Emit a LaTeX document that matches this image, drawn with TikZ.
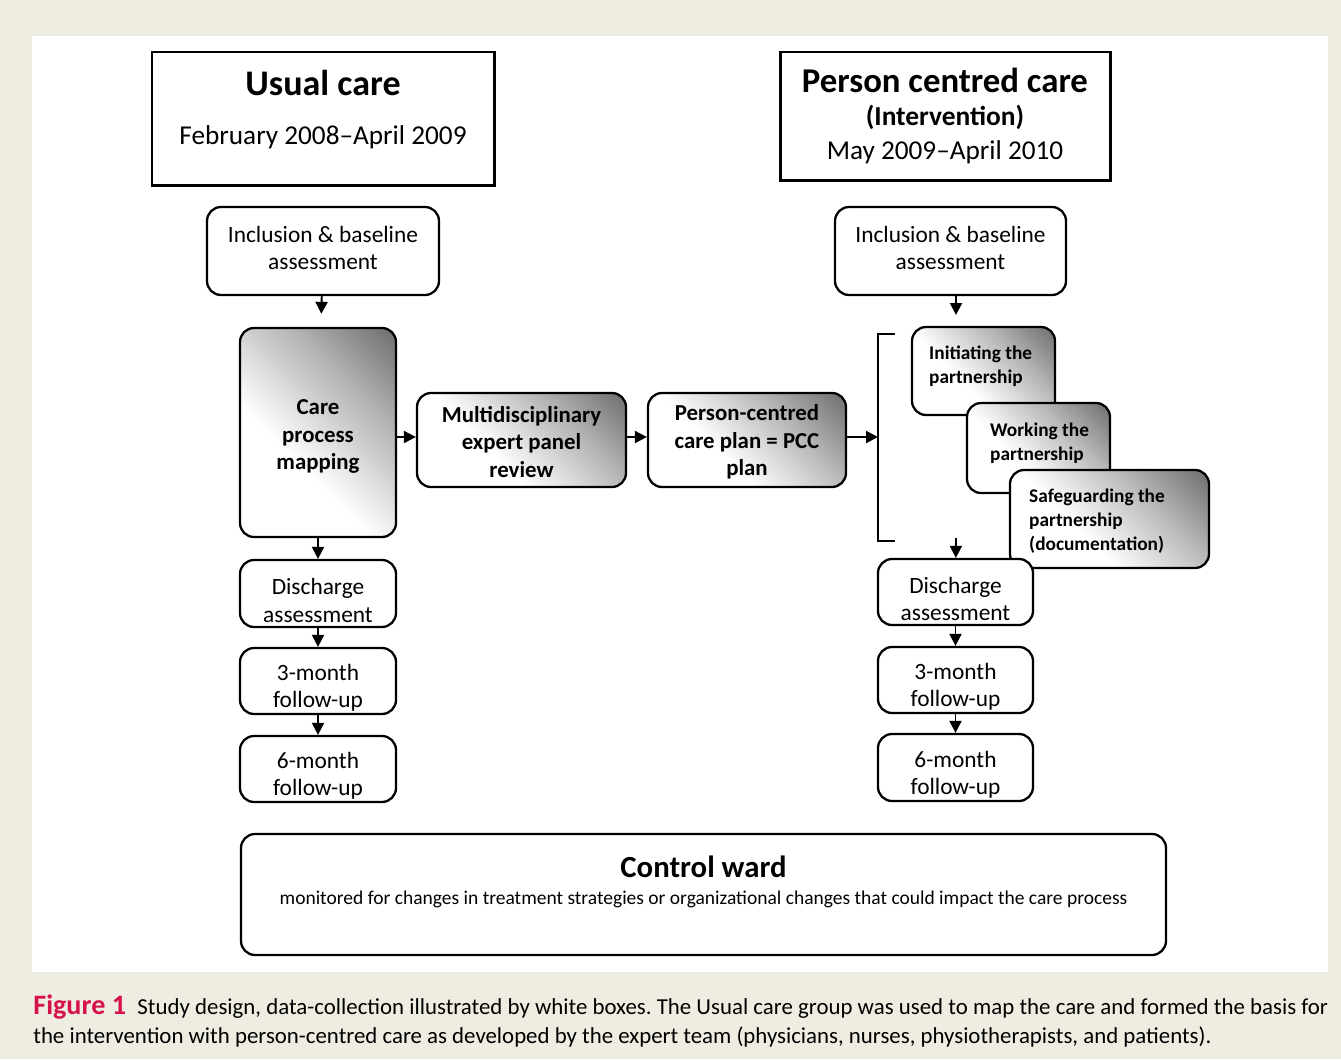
\documentclass[tikz,border=0pt]{standalone}
\usepackage{fontspec}
\setmainfont{Carlito}
\usetikzlibrary{arrows.meta, positioning}

\definecolor{pagebg}{RGB}{239,237,226}
\definecolor{figred}{RGB}{214,18,78}
\pgfdeclareverticalshading{cornershade}{100bp}{color(0bp)=(white); color(40bp)=(white); color(64bp)=(black!28); color(96bp)=(black!72); color(100bp)=(black!72)}

\tikzset{
  box/.style={draw, fill=white, rounded corners=8pt, line width=1.3pt, inner sep=0pt},
  titlebox/.style={draw, fill=white, line width=1.7pt, inner sep=0pt},
  shadebox/.style={draw, rounded corners=8pt, line width=1.3pt, inner sep=0pt,
    shade, shading=cornershade, shading angle=-45},
  sz/.style 2 args={minimum width=#1*0.02cm, minimum height=#2*0.02cm},
  txt/.style={align=center, inner sep=0pt, font=\fontsize{13.3}{15.5}\selectfont},
  boldtxt/.style={align=center, inner sep=0pt, font=\fontsize{13}{15.5}\selectfont\bfseries},
  smalltxt/.style={align=left, inner sep=0pt, font=\fontsize{11}{13.5}\selectfont\bfseries},
  arr/.style={line width=1.1pt, -{Triangle[length=2.4mm,width=2.4mm]}},
}

\begin{document}
\begin{tikzpicture}[x=0.02cm, y=-0.02cm]

% page and white panel
\fill[pagebg] (0,0) rectangle (1341,1059);
\fill[white] (32,36) rectangle (1328,972);
\useasboundingbox (0,0) rectangle (1341,1059);

% period boxes
\node[titlebox, sz={342}{133}, label={[txt, yshift=0.18cm]center:{{\fontsize{20.5}{24}\bfseries Usual care}\\[12pt]{\fontsize{15.5}{18}\selectfont February 2008--April 2009}}}] (usual) at (323,118.5) {};
\node[titlebox, sz={330}{128}, label={[txt, yshift=0.0cm]center:{{\fontsize{19.8}{22}\bfseries Person centred care}\\[3pt]{\fontsize{15.6}{19}\bfseries (Intervention)}\\[4pt]{\fontsize{15.5}{19}\selectfont May 2009--April 2010}}}] (pcctitle) at (945,116) {};

% inclusion
\node[box, sz={232}{88}, label={[txt, yshift=0.06cm]center:{Inclusion \& baseline\\assessment}}] (incl1) at (323,251) {};
\node[box, sz={231}{88}, label={[txt, yshift=0.06cm]center:{Inclusion \& baseline\\assessment}}] (incl2) at (950.5,251) {};

% usual care mapping chain
\node[shadebox, sz={156}{209}, label={[boldtxt, yshift=-0.08cm]center:{Care\\process\\mapping}}] (care) at (318,432.5) {};
\node[shadebox, sz={209}{94}, label={[boldtxt, yshift=-0.04cm]center:{Multidisciplinary\\expert panel\\review}}] (multi) at (521.5,440) {};
\node[shadebox, sz={198}{94}, label={[boldtxt, yshift=-0.04cm]center:{Person-centred\\care plan = PCC\\plan}}] (pccplan) at (747,440) {};

% partnership steps
\node[shadebox, sz={143}{88}, label={[smalltxt, anchor=west, xshift=0.36cm, yshift=0.1cm]west:{Initiating the\\partnership}}] (init) at (983.5,371) {};
\node[shadebox, sz={143}{90}, label={[smalltxt, anchor=west, xshift=0.48cm, yshift=0.1cm]west:{Working the\\partnership}}] (work) at (1038.5,448) {};
\node[shadebox, sz={199}{98}, label={[smalltxt, anchor=west, xshift=0.4cm, yshift=-0.04cm]west:{Safeguarding the\\partnership\\(documentation)}}] (safe) at (1109.5,519) {};

% bracket
\draw[line width=1.3pt] (895,334) -- (878,334) -- (878,541) -- (895,541);
\coordinate (brk) at (878,437);
\coordinate (brkin) at (956,315);
\coordinate (brkout) at (956,538);

% follow-up, usual care
\node[box, sz={156}{67}, label={[txt, yshift=-0.14cm]center:{Discharge\\assessment}}] (dis1) at (318,593.5) {};
\node[box, sz={156}{66}, label={[txt, yshift=-0.14cm]center:{3-month\\follow-up}}] (mthree1) at (318,681) {};
\node[box, sz={156}{66}, label={[txt, yshift=-0.14cm]center:{6-month\\follow-up}}] (msix1) at (318,769) {};

% follow-up, intervention
\node[box, sz={155}{66}, label={[txt, yshift=-0.14cm]center:{Discharge\\assessment}}] (dis2) at (955.5,592) {};
\node[box, sz={155}{66}, label={[txt, yshift=-0.14cm]center:{3-month\\follow-up}}] (mthree2) at (955.5,680) {};
\node[box, sz={155}{67}, label={[txt, yshift=-0.14cm]center:{6-month\\follow-up}}] (msix2) at (955.5,767.5) {};

% control ward
\node[box, sz={925}{121}, label={[txt, yshift=0.26cm]center:{{\fontsize{17.5}{20}\bfseries Control ward}\\{\fontsize{11.1}{13}\selectfont monitored for changes in treatment strategies or organizational changes that could impact the care process}}}] (control) at (703.5,894.5) {};

% arrows
\draw[arr, shorten >=0.26cm] (incl1) -- (care);
\draw[arr] (brkin |- incl2.south) -- (brkin);
\draw[arr] (care.east |- brk) -- (multi.west |- brk);
\draw[arr] (multi.east |- brk) -- (pccplan.west |- brk);
\draw[arr] (pccplan.east |- brk) -- (brk);
\draw[arr] (care) -- (dis1);
\draw[arr] (dis1) -- (mthree1);
\draw[arr] (mthree1) -- (msix1);
\draw[arr] (brkout) -- (dis2);
\draw[arr] (dis2) -- (mthree2);
\draw[arr] (mthree2) -- (msix2);

% caption
\node[anchor=north west, inner sep=0pt, text width=25.9cm, align=justify, font=\fontsize{13}{17}\selectfont\frenchspacing] (caption) at (33,994)
  {{\color{figred}\bfseries\fontsize{16}{17}\selectfont Figure 1}\enspace Study design, data-collection illustrated by white boxes. The Usual care group was used to map the care and formed the basis for\linebreak the intervention with person-centred care as developed by the expert team (physicians, nurses, physiotherapists, and patients).};

\end{tikzpicture}
\end{document}
